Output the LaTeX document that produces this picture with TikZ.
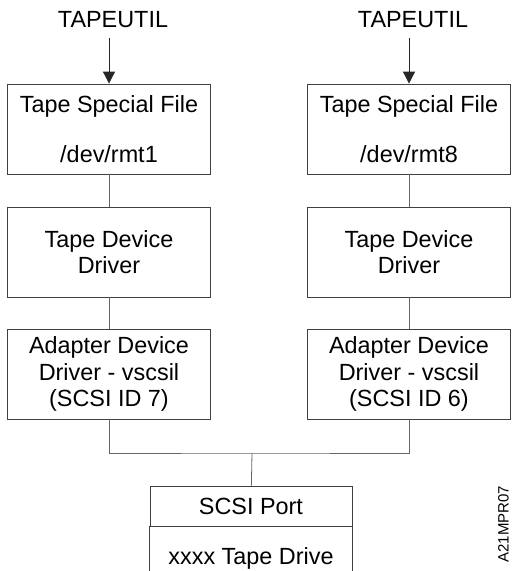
\documentclass[tikz,border=0pt]{standalone}
\usepackage{fontspec}
\setmainfont{Liberation Sans}
\usetikzlibrary{positioning,arrows.meta}

\begin{document}
\begin{tikzpicture}[x=1pt,y=-1pt,font=\fontsize{23.4}{26.5}\selectfont,
    line width=0.8pt,>={Triangle[length=12pt,width=12pt]},
    box/.style={draw=black!75,minimum width=203pt,align=center,inner sep=0pt},
    link/.style={draw=black!60}]
  \useasboundingbox (0,0) rectangle (513,571);
  % two driver stacks
  \foreach \c/\x/\n/\id in {l/109/1/7,r/409/8/6} {
    \node (tu\c) at (\x+4,20) {TAPEUTIL};
    \node[box,minimum height=90pt] (tsf\c) at (\x,129) {Tape Special File\\[24pt]/dev/rmt\n};
    \node[box,minimum height=90pt] (tdd\c) at (\x,252) {Tape Device\\Driver};
    \node[box,minimum height=90pt] (add\c) at (\x,374) {Adapter Device\\Driver - vscsil\\(SCSI ID \id)};
    \draw[->,black!85] (tsf\c.north |- 0,38) -- (tsf\c);
    \draw[link] (tsf\c) -- (tdd\c);
    \draw[link] (tdd\c) -- (add\c);
  }
  % shared port
  \coordinate (j) at (252,453);
  \node[box,minimum width=202pt,minimum height=40pt] (port) at (251,506) {SCSI Port};
  \node (drive) at (251,558) {xxxx Tape Drive};
  \draw[link] (addl.south) |- (j) -| (addr.south);
  \draw[link] (j) -- (port);
  \draw[draw=black!75] (port.south west) -- (port.south west |- drive.south);
  \draw[draw=black!75] (port.south east) -- (port.south east |- drive.south);
  \node[rotate=90,font=\fontsize{15}{17}\selectfont] (fig) at (503.5,524) {A21MPR07};
\end{tikzpicture}
\end{document}
